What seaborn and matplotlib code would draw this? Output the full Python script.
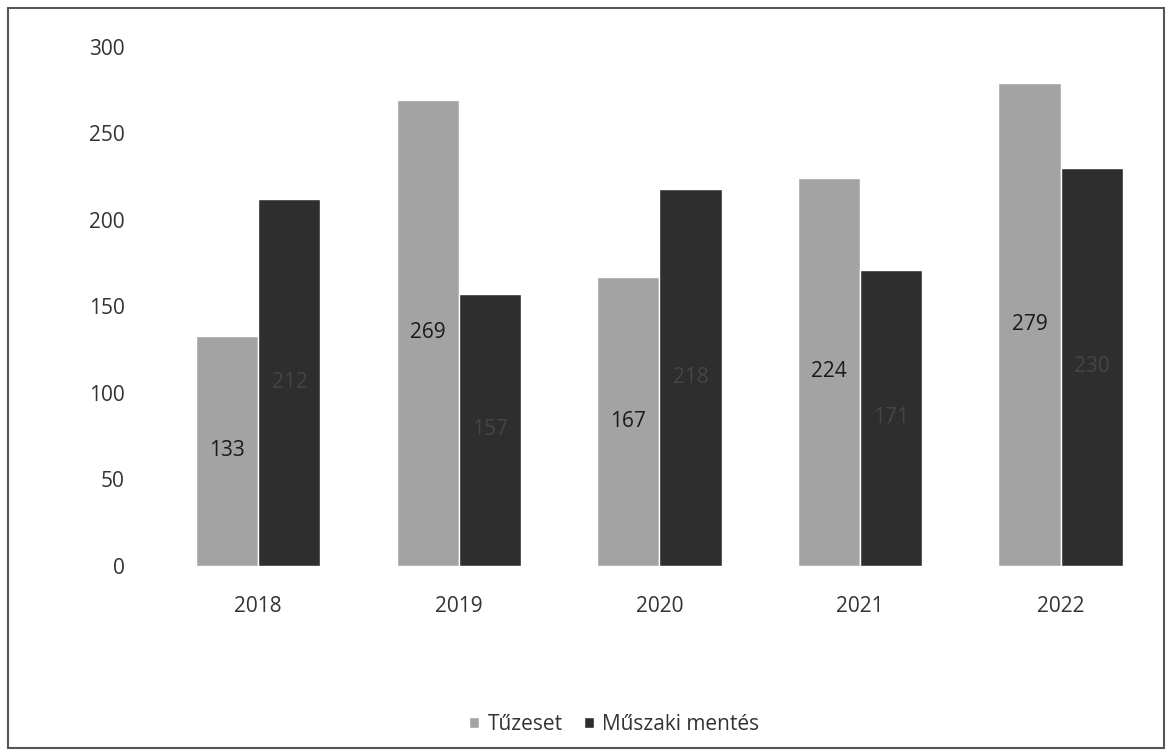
import pandas as pd
import numpy as np
import matplotlib.pyplot as plt
import seaborn as sns
from matplotlib.patches import Rectangle

# adatok
years = ["2018", "2019", "2020", "2021", "2022"]
tuzeset = [133, 269, 167, 224, 279]
muszaki = [212, 157, 218, 171, 230]
series_names = ["Tűzeset", "Műszaki mentés"]

df = pd.DataFrame({
    "ev": years * 2,
    "db": tuzeset + muszaki,
    "tipus": [series_names[0]] * len(years) + [series_names[1]] * len(years),
})

sns.set_style("white")
plt.rcParams['font.family'] = ['Open Sans', 'DejaVu Sans']

fig = plt.figure(figsize=(11.73, 7.54), dpi=100)
ax = fig.add_axes([0.1347, 0.25, 0.855, 0.688])

pal = {series_names[0]: "#a3a3a3", series_names[1]: "#2e2e2e"}
sns.barplot(data=df, x="ev", y="db", hue="tipus", palette=pal, width=0.62,
            saturation=1, ax=ax, legend=True)

# címkék az oszlopok közepén
label_cols = {0: "#1a1a1a", 1: "#454545"}
for i, cont in enumerate(ax.containers):
    ax.bar_label(cont, label_type="center", fontsize=15, color=label_cols[i])

ax.set_ylim(0, 300)
ax.set_yticks(np.arange(0, 301, 50))
ax.set_xlabel("")
ax.set_ylabel("")
sns.despine(ax=ax, left=True, bottom=True)
ax.tick_params(axis="y", labelsize=15, pad=24, colors="#333333", length=0)
ax.tick_params(axis="x", labelsize=15, pad=22, colors="#333333", length=0)

leg = ax.legend(loc="upper center", bbox_to_anchor=(0.455, -0.25), ncol=2, frameon=False,
                fontsize=15, handlelength=0.5, handleheight=0.5, columnspacing=1.0,
                handletextpad=0.4, labelcolor="#333333")

# keret
fig.patches.append(Rectangle((0.007, 0.008), 0.985, 0.982, transform=fig.transFigure,
                             fill=False, edgecolor="#555555", linewidth=1.5))

fig.savefig("out.png", dpi=100)
